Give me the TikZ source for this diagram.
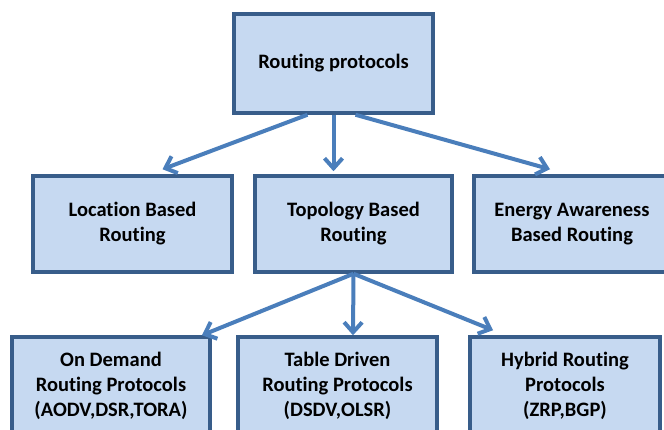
\documentclass[tikz,border=0pt]{standalone}
\usepackage{fontspec}
\setmainfont{Carlito}[Ligatures=NoCommon]
\usetikzlibrary{arrows.meta,positioning}
\definecolor{boxfill}{HTML}{C6D9F1}
\definecolor{boxline}{HTML}{385D8A}
\definecolor{linkblue}{HTML}{4A7EBB}

\begin{document}
\begin{tikzpicture}[x=1pt,y=-1pt,
  box/.style={draw=boxline,line width=3.5pt,fill=boxfill,align=center,inner sep=0pt,
    font=\fontsize{20.5}{25}\selectfont\bfseries},
  link/.style={draw=linkblue,line width=4pt,-{Straight Barb[length=10pt,width=18pt]}}]
\useasboundingbox (0,0) rectangle (664,430);
\node[box,minimum width=199pt,minimum height=99pt] (root) at (333.5,63.5) {Routing protocols};
\node[box,minimum width=199pt,minimum height=96pt] (loc) at (132.5,224) {Location Based\\Routing};
\node[box,minimum width=197pt,minimum height=96pt] (topo) at (353.5,224) {Topology Based\\Routing};
\node[box,minimum width=196pt,minimum height=96pt] (energy) at (572,224) {Energy Awareness\\Based Routing};
\node[box,minimum width=198pt,minimum height=97pt] (ondemand) at (111,385.5) {On Demand\\Routing Protocols\\(AODV,DSR,TORA)};
\node[box,minimum width=199pt,minimum height=97pt] (table) at (337.5,385.5) {Table Driven\\Routing Protocols\\(DSDV,OLSR)};
\node[box,minimum width=190pt,minimum height=97pt] (hybrid) at (565,385.5) {Hybrid Routing\\Protocols\\(ZRP,BGP)};
\draw[link] ([xshift=-26pt]root.south) -- ([xshift=30pt,yshift=5pt]loc.north);
\draw[link] (root.south) -- ([xshift=-20pt,yshift=3pt]topo.north);
\draw[link] ([xshift=22pt]root.south) -- ([xshift=-22pt,yshift=5pt]energy.north);
\draw[link] (topo.south) -- ([xshift=91pt]ondemand.north);
\draw[link] (topo.south) -- ([xshift=15.5pt]table.north);
\draw[link] (topo.south) -- ([xshift=-72pt,yshift=5pt]hybrid.north);
\end{tikzpicture}
\end{document}
